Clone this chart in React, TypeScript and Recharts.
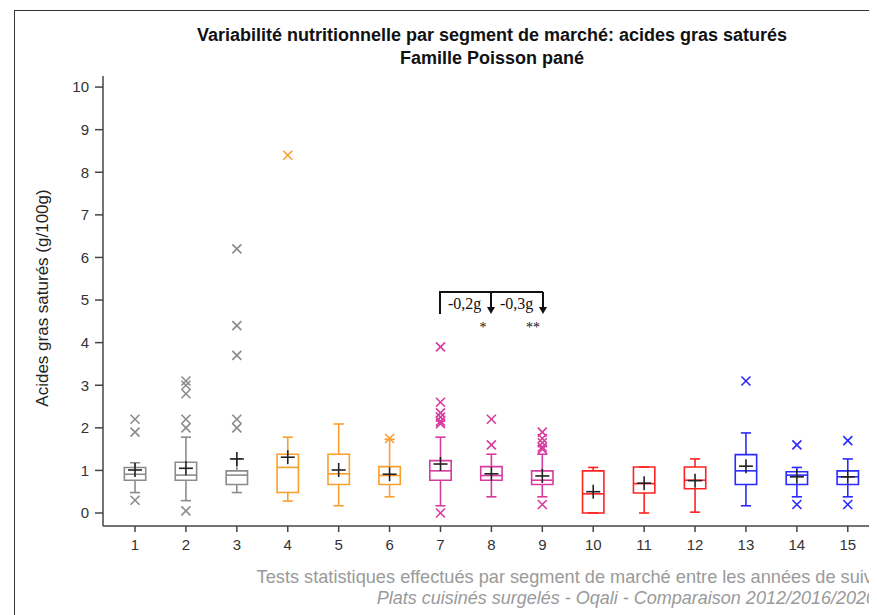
import React from 'react';
import {
    ComposedChart,
    XAxis,
    YAxis,
    Scatter,
    ReferenceArea,
    ReferenceLine
} from 'recharts';

// Segments de marché 1..15
const segments = ['1', '2', '3', '4', '5', '6', '7', '8', '9', '10', '11', '12', '13', '14', '15'];

// Statistiques des boîtes (g/100g)
const whiskerLow = [0.48, 0.29, 0.48, 0.28, 0.17, 0.38, 0.17, 0.38, 0.38, 0, 0, 0.02, 0.17, 0.38, 0.38];
const q1 = [0.77, 0.77, 0.67, 0.48, 0.67, 0.67, 0.77, 0.77, 0.67, 0, 0.47, 0.57, 0.67, 0.67, 0.67];
const medians = [0.91, 0.89, 0.89, 1.07, 0.92, 0.88, 0.99, 0.88, 0.77, 0.45, 0.69, 0.77, 0.99, 0.89, 0.85];
const q3 = [1.07, 1.19, 0.99, 1.38, 1.38, 1.09, 1.23, 1.09, 0.99, 0.99, 1.08, 1.08, 1.37, 0.97, 0.99];
const whiskerHigh = [1.18, 1.78, 1.27, 1.78, 2.09, 1.73, 1.78, 1.38, 1.38, 1.07, 1.08, 1.27, 1.88, 1.07, 1.27];
const means = [1.01, 1.05, 1.27, 1.31, 1.01, 0.91, 1.15, 0.92, 0.87, 0.5, 0.7, 0.76, 1.1, 0.85, 0.85];
const outliers: number[][] = [
    [2.2, 1.9, 0.3],
    [3.1, 3.0, 2.8, 2.2, 2.0, 0.05],
    [6.2, 4.4, 3.7, 2.2, 2.0],
    [8.4],
    [],
    [1.75],
    [3.9, 2.6, 2.35, 2.25, 2.15, 2.1, 0],
    [2.2, 1.6],
    [1.9, 1.75, 1.65, 1.55, 1.5, 0.2],
    [],
    [],
    [],
    [3.1],
    [1.6, 0.2],
    [1.7, 0.2]
];
const segmentColors = [
    '#8c8c8c', '#8c8c8c', '#8c8c8c',
    '#fa9e2e', '#fa9e2e', '#fa9e2e',
    '#d63b9e', '#d63b9e', '#d63b9e',
    '#ff2222', '#ff2222', '#ff2222',
    '#2a2aff', '#2a2aff', '#2a2aff'
];

const yTicks = [0, 1, 2, 3, 4, 5, 6, 7, 8, 9, 10];
const xTicks = segments.map((_, i) => i + 1);

const meanData = segments.map((_, i) => ({ x: i + 1, y: means[i] }));
const outlierData = outliers.flatMap((vals, i) =>
    vals.map(v => ({ x: i + 1, y: v, color: segmentColors[i] }))
);

const BOX_HALF = 0.21;
const CAP_HALF = 0.1;
const FONT = "'Liberation Sans', Arial, sans-serif";
const AXIS = '#444';

const MeanMark = (props: any) => {
    const { cx, cy } = props;
    return (
        <g>
            <line x1={cx - 7} x2={cx + 7} y1={cy} y2={cy} stroke="#222" strokeWidth={1.6} />
            <line x1={cx} x2={cx} y1={cy - 7} y2={cy + 7} stroke="#222" strokeWidth={1.6} />
        </g>
    );
};

const OutlierMark = (props: any) => {
    const { cx, cy, payload } = props;
    const s = 4.5;
    return (
        <g stroke={payload.color} strokeWidth={1.6}>
            <line x1={cx - s} x2={cx + s} y1={cy - s} y2={cy + s} />
            <line x1={cx - s} x2={cx + s} y1={cy + s} y2={cy - s} />
        </g>
    );
};

export default function App() {
    return (
        <div style={{ position: 'relative', width: 869, height: 607, overflow: 'hidden', background: '#fff' }}>
            <div style={{
                position: 'absolute', left: 6, top: 2, width: 900, height: 700,
                borderLeft: '1.5px solid #333', borderTop: '1.5px solid #333'
            }} />
            <div style={{ position: 'absolute', left: 0, top: 0 }}>
                <ComposedChart width={880} height={607} margin={{ top: 68, right: 0, bottom: 59, left: 35 }}>
                    <XAxis
                        type="number"
                        dataKey="x"
                        domain={[0.371, 15.79]}
                        allowDataOverflow
                        ticks={xTicks}
                        interval={0}
                        height={30}
                        tickSize={6}
                        tickMargin={7}
                        tick={{ fill: '#333', fontSize: 15, fontFamily: FONT }}
                        axisLine={{ stroke: AXIS, strokeWidth: 1.5 }}
                        tickLine={{ stroke: AXIS, strokeWidth: 1.5 }}
                    />
                    <XAxis
                        xAxisId="top"
                        orientation="top"
                        type="number"
                        dataKey="x"
                        domain={[0.371, 15.79]}
                        allowDataOverflow
                        tick={false}
                        tickLine={false}
                        height={0}
                        axisLine={{ stroke: AXIS, strokeWidth: 1.5 }}
                    />
                    <YAxis
                        type="number"
                        dataKey="y"
                        domain={[-0.305, 10.26]}
                        allowDataOverflow
                        ticks={yTicks}
                        interval={0}
                        width={60}
                        tickSize={8}
                        tickMargin={6}
                        tick={{ fill: '#333', fontSize: 15, fontFamily: FONT }}
                        axisLine={{ stroke: AXIS, strokeWidth: 1.5 }}
                        tickLine={{ stroke: AXIS, strokeWidth: 1.5 }}
                    />
                    {segments.map((s, i) => {
                        const x = i + 1;
                        const c = segmentColors[i];
                        return (
                            <React.Fragment key={s}>
                                <ReferenceLine segment={[{ x, y: q3[i] }, { x, y: whiskerHigh[i] }]} stroke={c} strokeWidth={1.6} />
                                <ReferenceLine segment={[{ x, y: whiskerLow[i] }, { x, y: q1[i] }]} stroke={c} strokeWidth={1.6} />
                                <ReferenceLine segment={[{ x: x - CAP_HALF, y: whiskerHigh[i] }, { x: x + CAP_HALF, y: whiskerHigh[i] }]} stroke={c} strokeWidth={1.6} />
                                <ReferenceLine segment={[{ x: x - CAP_HALF, y: whiskerLow[i] }, { x: x + CAP_HALF, y: whiskerLow[i] }]} stroke={c} strokeWidth={1.6} />
                                <ReferenceArea x1={x - BOX_HALF} x2={x + BOX_HALF} y1={q1[i]} y2={q3[i]} fill="#fff" fillOpacity={1} stroke={c} strokeWidth={1.6} />
                                <ReferenceLine segment={[{ x: x - BOX_HALF, y: medians[i] }, { x: x + BOX_HALF, y: medians[i] }]} stroke={c} strokeWidth={1.6} />
                            </React.Fragment>
                        );
                    })}
                    <Scatter data={outlierData} dataKey="y" shape={OutlierMark} isAnimationActive={false} />
                    <Scatter data={meanData} dataKey="y" shape={MeanMark} isAnimationActive={false} />
                </ComposedChart>
            </div>
            <svg width={869} height={607} style={{ position: 'absolute', left: 0, top: 0, pointerEvents: 'none' }}>
                <text x={484} y={33} textAnchor="middle" fontFamily={FONT} fontWeight="bold" fontSize={18} fill="#111">
                    Variabilité nutritionnelle par segment de marché: acides gras saturés
                </text>
                <text x={484} y={56} textAnchor="middle" fontFamily={FONT} fontWeight="bold" fontSize={18} fill="#111">
                    Famille Poisson pané
                </text>
                <text
                    x={34}
                    y={290}
                    transform="rotate(-90 34 290)"
                    textAnchor="middle"
                    dominantBaseline="central"
                    fontFamily={FONT}
                    fontSize={17}
                    fill="#222"
                >
                    Acides gras saturés (g/100g)
                </text>
                <text x={869} y={575} textAnchor="end" fontFamily={FONT} fontSize={18.2} fill="#9a9a9a">
                    Tests statistiques effectués par segment de marché entre les années de suivi
                </text>
                <text x={868} y={596} textAnchor="end" fontFamily={FONT} fontSize={18} fontStyle="italic" fill="#9a9a9a">
                    Plats cuisinés surgelés - Oqali - Comparaison 2012/2016/2020
                </text>
                {/* annotation: comparaisons 7 -> 8 -> 9 */}
                <g stroke="#111" strokeWidth={2} fill="none">
                    <polyline points="432,306 432,284 535,284" />
                    <line x1={483} y1={284} x2={483} y2={300} />
                    <line x1={535} y1={284} x2={535} y2={300} />
                </g>
                <polygon points="479,299 487,299 483,306" fill="#111" />
                <polygon points="531,299 539,299 535,306" fill="#111" />
                <g fontFamily="'Liberation Serif', 'DejaVu Serif', serif" fontSize={16} fill="#111">
                    <text x={440} y={301}>-0,2g</text>
                    <text x={492} y={301}>-0,3g</text>
                    <text x={475} y={324} textAnchor="middle" fontSize={14}>*</text>
                    <text x={525} y={324} textAnchor="middle" fontSize={14}>**</text>
                </g>
            </svg>
        </div>
    );
}
